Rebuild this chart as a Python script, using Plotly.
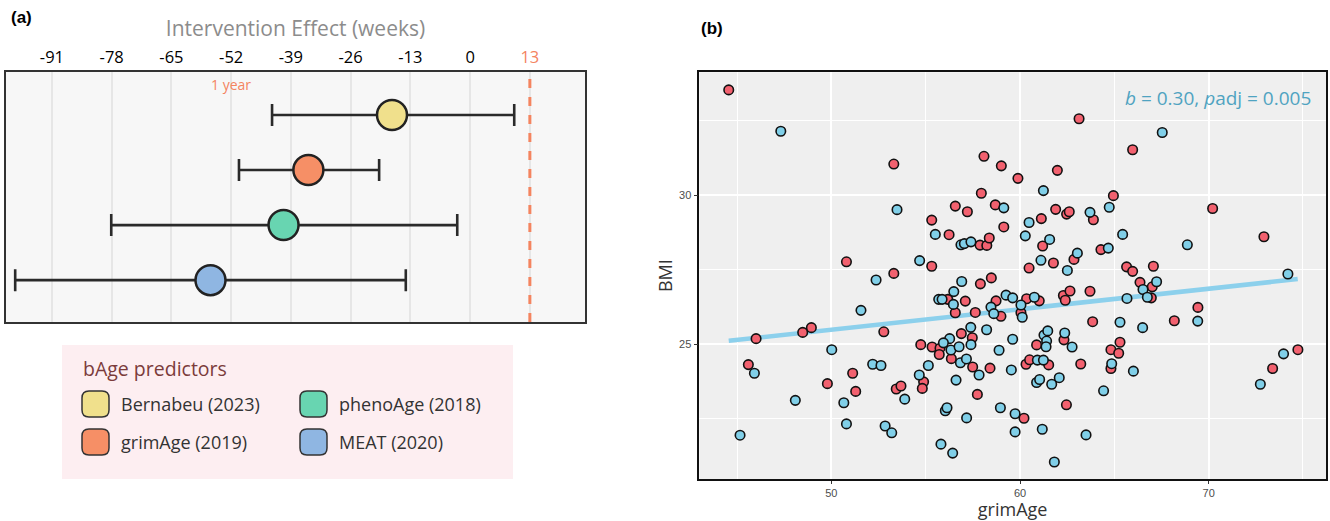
import plotly.graph_objects as go

W, H = 1330, 521

# ---------------- Panel (a) data ----------------
predictors = ["Bernabeu (2023)", "grimAge (2019)", "phenoAge (2018)", "MEAT (2020)"]
effect = [-17.0, -35.2, -40.6, -56.5]
ci_low = [-43.1, -50.3, -78.1, -99.0]
ci_high = [9.6, -19.8, -2.8, -14.0]
pred_colors = ["#F0E08C", "#F68F66", "#68D5B1", "#8FB6E2"]
week_ticks = [-91, -78, -65, -52, -39, -26, -13, 0, 13]
ref_line_week = 13
one_year_week = -52

# ---------------- Panel (b) data ----------------
red_x = [44.56, 53.31, 50.80, 53.31,
         63.13, 58.09, 59.01, 59.89, 61.98, 64.95, 57.95, 56.57, 57.21, 58.69, 55.32, 56.24,
         57.88, 58.24, 58.37, 59.14, 55.32, 58.48, 57.90, 61.13, 61.89, 62.47, 62.61, 63.89,
         61.20, 62.86, 64.29, 61.77, 60.48,
         65.97, 70.21, 72.93, 65.65, 65.97, 67.07,
         66.36, 67.01, 66.96, 69.43, 68.18, 65.30, 64.82, 65.23, 64.82, 74.73, 73.39,
         48.94, 48.48, 46.01, 52.78, 45.60, 51.13, 49.79, 51.29, 53.44, 53.69,
         56.17, 56.57, 57.10, 57.63, 58.73, 58.99, 60.35, 61.02, 60.05, 62.30, 62.65, 62.40,
         63.71, 63.85, 56.89, 57.47, 54.74, 55.34, 55.76, 55.72, 56.36, 57.49, 54.89, 54.82,
         57.74, 58.41, 60.88, 60.32, 60.51, 61.52, 62.33, 63.22, 62.46, 60.21]
red_y = [33.53, 31.04, 27.76, 27.37,
         32.56, 31.30, 30.98, 30.56, 30.83, 29.98, 30.06, 29.63, 29.44, 29.67, 29.16, 28.67,
         28.32, 28.31, 28.56, 28.93, 27.61, 27.22, 27.02, 29.21, 29.52, 29.36, 29.44, 29.17,
         28.29, 27.84, 28.17, 27.72, 27.55,
         31.52, 29.55, 28.60, 27.59, 27.44, 27.61,
         27.07, 26.92, 26.55, 26.23, 25.78, 25.06, 24.81, 24.69, 24.18, 24.81, 24.18,
         25.55, 25.39, 25.18, 25.41, 24.31, 24.02, 23.67, 23.41, 23.49, 23.59,
         26.50, 26.05, 26.44, 26.06, 26.45, 25.93, 26.52, 26.45, 26.05, 26.63, 26.78, 26.47,
         26.77, 25.75, 25.35, 25.21, 24.98, 24.90, 24.86, 24.65, 24.51, 24.23, 23.73, 23.51,
         23.31, 24.19, 24.97, 24.32, 24.47, 24.30, 25.14, 24.33, 22.96, 22.51]

blue_x = [47.32, 53.48, 52.37,
          61.24, 59.14, 55.51, 56.87, 57.05, 57.40, 54.68, 56.91, 60.48, 63.71, 64.73, 60.28,
          61.57, 63.04, 64.68, 61.11, 62.51,
          67.54, 65.44, 68.87, 74.20,
          67.24, 66.52, 66.75, 65.67, 69.42, 65.30, 66.50, 64.86, 66.01, 73.97, 72.74,
          51.57, 50.02, 45.92, 52.19, 52.63, 53.89, 48.09, 50.66, 50.80, 52.85, 53.20, 45.16,
          56.49, 55.69, 55.87, 56.47, 58.46, 58.61, 59.26, 59.61, 60.76, 60.05, 60.12, 57.39,
          58.23, 57.40, 56.27, 55.94, 56.34, 56.77, 56.84, 57.16, 57.83, 55.14, 54.66, 56.61,
          58.89, 59.61, 59.54, 61.27, 61.47, 61.41, 61.38, 60.92, 61.24, 60.88, 61.04, 61.68,
          62.08, 62.37, 62.76, 64.43, 58.96, 59.74, 56.04, 56.13, 57.17, 59.74, 61.18, 63.50,
          55.81, 56.43, 61.82]
blue_y = [32.14, 29.51, 27.15,
          30.15, 29.57, 28.68, 28.33, 28.37, 28.43, 27.80, 27.10, 29.08, 29.42, 29.59, 28.63,
          28.51, 28.05, 28.22, 27.81, 27.47,
          32.10, 28.68, 28.33, 27.35,
          27.09, 26.83, 26.57, 26.53, 25.77, 25.73, 25.55, 24.34, 24.09, 24.67, 23.65,
          26.13, 24.81, 24.02, 24.32, 24.28, 23.15, 23.11, 23.03, 22.32, 22.25, 22.02, 21.94,
          26.76, 26.50, 26.50, 26.33, 26.24, 26.02, 26.64, 26.55, 26.57, 26.31, 25.90, 25.56,
          25.48, 24.98, 25.18, 25.04, 24.80, 24.91, 24.37, 24.50, 23.96, 24.28, 23.96, 23.79,
          24.79, 25.16, 24.13, 25.30, 25.44, 25.10, 24.91, 24.46, 24.46, 23.71, 23.81, 23.65,
          23.87, 25.37, 24.90, 23.43, 22.86, 22.66, 22.76, 22.86, 22.52, 22.05, 22.14, 21.95,
          21.64, 21.34, 21.04]

fit_x = [44.56, 74.72]
fit_y = [25.11, 27.18]
stat_label = "<i>b</i> = 0.30, <i>p</i>adj = 0.005"

# ---------------- Layout helpers (pixel -> paper) ----------------
def px(x):
    return x / W


def py(y):
    return 1 - y / H


def rounded_rect(x0, y0, x1, y1, r):
    pts = [
        f"M {px(x0 + r)},{py(y0)}",
        f"L {px(x1 - r)},{py(y0)}",
        f"Q {px(x1)},{py(y0)} {px(x1)},{py(y0 + r)}",
        f"L {px(x1)},{py(y1 - r)}",
        f"Q {px(x1)},{py(y1)} {px(x1 - r)},{py(y1)}",
        f"L {px(x0 + r)},{py(y1)}",
        f"Q {px(x0)},{py(y1)} {px(x0)},{py(y1 - r)}",
        f"L {px(x0)},{py(y0 + r)}",
        f"Q {px(x0)},{py(y0)} {px(x0 + r)},{py(y0)}",
        "Z",
    ]
    return " ".join(pts)


FONT = "Open Sans"
ORANGE = "#F4845F"

fig = go.Figure()

# Panel (a): forest plot
for i, name in enumerate(predictors):
    fig.add_trace(go.Scatter(
        x=[effect[i]], y=[name], mode="markers",
        marker=dict(size=30, color=pred_colors[i], line=dict(color="#222222", width=2.5)),
        error_x=dict(type="data", symmetric=False,
                     array=[ci_high[i] - effect[i]], arrayminus=[effect[i] - ci_low[i]],
                     color="#2a2a2a", thickness=2.6, width=11),
        xaxis="x", yaxis="y", showlegend=False, name=name,
    ))

# Panel (b): scatter
fig.add_trace(go.Scatter(x=fit_x, y=fit_y, mode="lines",
                         line=dict(color="#8CD0EC", width=4.5),
                         xaxis="x2", yaxis="y2", showlegend=False))
fig.add_trace(go.Scatter(x=red_x, y=red_y, mode="markers",
                         marker=dict(size=9.5, color="#F2616F", line=dict(color="#111111", width=1.6)),
                         xaxis="x2", yaxis="y2", showlegend=False))
fig.add_trace(go.Scatter(x=blue_x, y=blue_y, mode="markers",
                         marker=dict(size=9.5, color="#80CFE8", line=dict(color="#111111", width=1.6)),
                         xaxis="x2", yaxis="y2", showlegend=False))

ticktext = [str(t) if t != ref_line_week else f"<span style='color:{ORANGE}'>{t}</span>"
            for t in week_ticks]

shapes = [
    dict(type="rect", xref="x domain", yref="y domain", x0=0, x1=1, y0=0, y1=1,
         fillcolor="#F7F7F7", line=dict(width=0), layer="below"),
    dict(type="rect", xref="x2 domain", yref="y2 domain", x0=0, x1=1, y0=0, y1=1,
         fillcolor="#EFEFEF", line=dict(width=0), layer="below"),
    dict(type="line", xref="x", yref="y domain", x0=ref_line_week, x1=ref_line_week, y0=0, y1=1,
         line=dict(color=ORANGE, width=3, dash="dash")),
    dict(type="rect", xref="paper", yref="paper", x0=px(62), x1=px(513), y0=py(479), y1=py(345),
         fillcolor="#FDEEF1", line=dict(width=0), layer="below"),
]

annotations = [
    dict(text="<b>(a)</b>", xref="paper", yref="paper", x=px(9), y=py(18), xanchor="left",
         yanchor="middle", showarrow=False, font=dict(family="Liberation Sans", size=17, color="black")),
    dict(text="<b>(b)</b>", xref="paper", yref="paper", x=px(699), y=py(28), xanchor="left",
         yanchor="middle", showarrow=False, font=dict(family="Liberation Sans", size=17, color="black")),
    dict(text="1 year", xref="x", yref="y domain", x=one_year_week, y=0.952, xanchor="center",
         yanchor="middle", showarrow=False, font=dict(family=FONT, size=14, color=ORANGE)),
    dict(text=stat_label, xref="paper", yref="paper", x=px(1313), y=py(98), xanchor="right",
         yanchor="middle", showarrow=False, font=dict(family=FONT, size=19, color="#4FA3C1")),
    dict(text="bAge predictors", xref="paper", yref="paper", x=px(81), y=py(368), xanchor="left",
         yanchor="middle", showarrow=False, font=dict(family=FONT, size=19.5, color="#7B3B3B")),
]

# manual legend
col_x = [82, 300]
row_y = [391, 429]
text_x = [119, 337]
for i, name in enumerate(predictors):
    c, r = i // 2, i % 2
    x0, y0 = col_x[c], row_y[r]
    shapes.append(dict(type="path", xref="paper", yref="paper",
                       path=rounded_rect(x0, y0, x0 + 27, y0 + 26, 7),
                       fillcolor=pred_colors[i], line=dict(color="#333333", width=1.5)))
    annotations.append(dict(text=name, xref="paper", yref="paper", x=px(text_x[c]), y=py(y0 + 13),
                            xanchor="left", yanchor="middle", showarrow=False,
                            font=dict(family=FONT, size=18, color="#333333")))

fig.update_layout(
    width=W, height=H, margin=dict(l=0, r=0, t=0, b=0),
    paper_bgcolor="white", plot_bgcolor="white",
    font=dict(family=FONT),
    xaxis=dict(domain=[px(6), px(585)], anchor="y", side="top", range=[-101, 25],
               tickmode="array", tickvals=week_ticks, ticktext=ticktext,
               ticks="outside", ticklen=1, tickcolor="rgba(0,0,0,0)",
               tickfont=dict(family=FONT, size=16.5, color="black"),
               showgrid=True, gridcolor="#E6E6E6", gridwidth=2, zeroline=False,
               showline=True, mirror=True, linecolor="#333333", linewidth=1.5,
               title=dict(text="Intervention Effect (weeks)", standoff=2,
                          font=dict(family=FONT, size=21, color="#8C8C8C")),
               automargin=False),
    yaxis=dict(domain=[py(322), py(72)], anchor="x", type="category",
               categoryorder="array", categoryarray=predictors, range=[3.76, -0.78],
               showticklabels=False, ticks="", showgrid=False, zeroline=False,
               showline=True, mirror=True, linecolor="#333333", linewidth=1.5,
               automargin=False),
    xaxis2=dict(domain=[px(699.3), px(1326)], anchor="y2", range=[43.0, 76.22],
                tick0=0, dtick=10, ticks="outside", ticklen=3, tickcolor="#333333", tickwidth=1,
                tickfont=dict(family="Liberation Sans", size=11, color="#4D4D4D"),
                showgrid=True, gridcolor="white", gridwidth=1.6, zeroline=False,
                minor=dict(tick0=0, dtick=5, showgrid=True, gridcolor="white", gridwidth=0.8, ticks=""),
                showline=True, mirror=True, linecolor="#111111", linewidth=1.6,
                title=dict(text="grimAge", standoff=10, font=dict(family=FONT, size=18, color="#333333")),
                automargin=False),
    yaxis2=dict(domain=[py(479), py(72.3)], anchor="x2", range=[20.47, 34.12],
                tick0=0, dtick=5, ticks="outside", ticklen=4, tickcolor="#333333", tickwidth=1,
                tickfont=dict(family="Liberation Sans", size=11, color="#4D4D4D"),
                showgrid=True, gridcolor="white", gridwidth=1.6, zeroline=False,
                minor=dict(tick0=0, dtick=2.5, showgrid=True, gridcolor="white", gridwidth=0.8, ticks=""),
                showline=True, mirror=True, linecolor="#111111", linewidth=1.6,
                title=dict(text="BMI", standoff=2, font=dict(family=FONT, size=18, color="#333333")),
                automargin=False),
    shapes=shapes, annotations=annotations,
)

fig.write_html("out.html", config={"displayModeBar": False},
               post_script="document.body.style.margin='0';document.body.style.overflow='hidden';")
